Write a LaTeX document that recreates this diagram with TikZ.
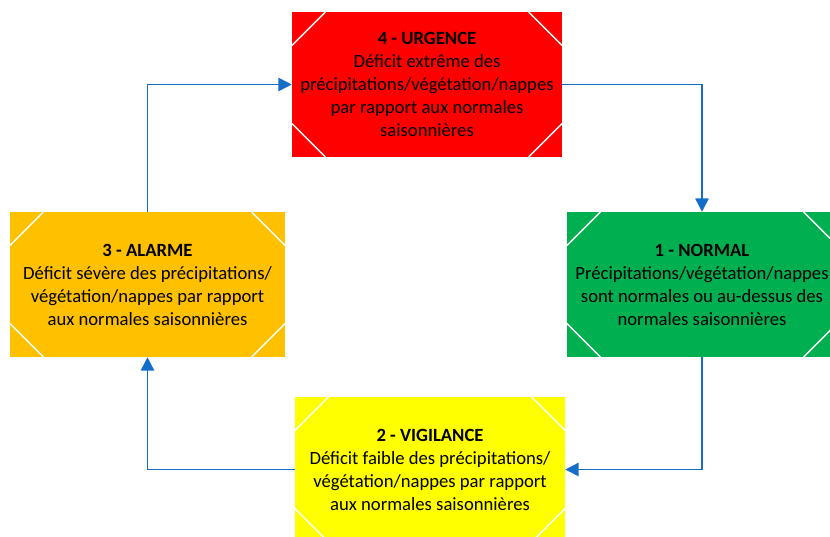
\documentclass[tikz,border=0pt]{standalone}
\usepackage{fontspec}
\setmainfont{Carlito}
\usetikzlibrary{arrows.meta}

\definecolor{rougeU}{RGB}{255,0,0}
\definecolor{orangeA}{RGB}{255,192,0}
\definecolor{vertN}{RGB}{0,176,80}
\definecolor{jauneV}{RGB}{255,255,0}
\definecolor{bleuF}{RGB}{20,110,200}

\tikzset{
  niveau/.style={minimum width=202.5pt, minimum height=108.75pt, inner sep=0pt,
    align=center, font=\fontsize{14}{17.25}\selectfont,
    path picture={
      \draw[white, line width=1pt]
        ([yshift=-25pt]path picture bounding box.north west) -- ([xshift=25pt]path picture bounding box.north west)
        ([yshift=-25pt]path picture bounding box.north east) -- ([xshift=-25pt]path picture bounding box.north east)
        ([yshift=25pt]path picture bounding box.south west) -- ([xshift=25pt]path picture bounding box.south west)
        ([yshift=25pt]path picture bounding box.south east) -- ([xshift=-25pt]path picture bounding box.south east);
    }},
  fleche/.style={draw=bleuF, line width=1.1pt, -{Triangle[length=10pt,width=10pt]}}
}

\begin{document}
\begin{tikzpicture}[x=0.75pt, y=-0.75pt]
\clip (0,0) rectangle (830,536);

% niveaux
\node [niveau, fill=rougeU] (urgence) at (427,84.5)
  {\textbf{4 - URGENCE}\\Déficit extrême des\\précipitations/végétation/nappes\\par rapport aux normales\\saisonnières};
\node [niveau, fill=vertN] (normal) at (702,284.5)
  {\textbf{1 - NORMAL}\\Précipitations/végétation/nappes\\sont normales ou au-dessus des\\normales saisonnières};
\node [niveau, fill=jauneV] (vigilance) at (430,469.5)
  {\textbf{2 - VIGILANCE}\\Déficit faible des précipitations/\\végétation/nappes par rapport\\aux normales saisonnières};
\node [niveau, fill=orangeA, minimum width=206.25pt] (alarme) at (147.5,284.5)
  {\textbf{3 - ALARME}\\Déficit sévère des précipitations/\\végétation/nappes par rapport\\aux normales saisonnières};

% cycle
\draw [fleche] (urgence.east) -| (normal.north);
\draw [fleche] (normal.south) |- (vigilance.east);
\draw [fleche] (vigilance.west) -| (alarme.south);
\draw [fleche] (alarme.north) |- (urgence.west);
\end{tikzpicture}
\end{document}
